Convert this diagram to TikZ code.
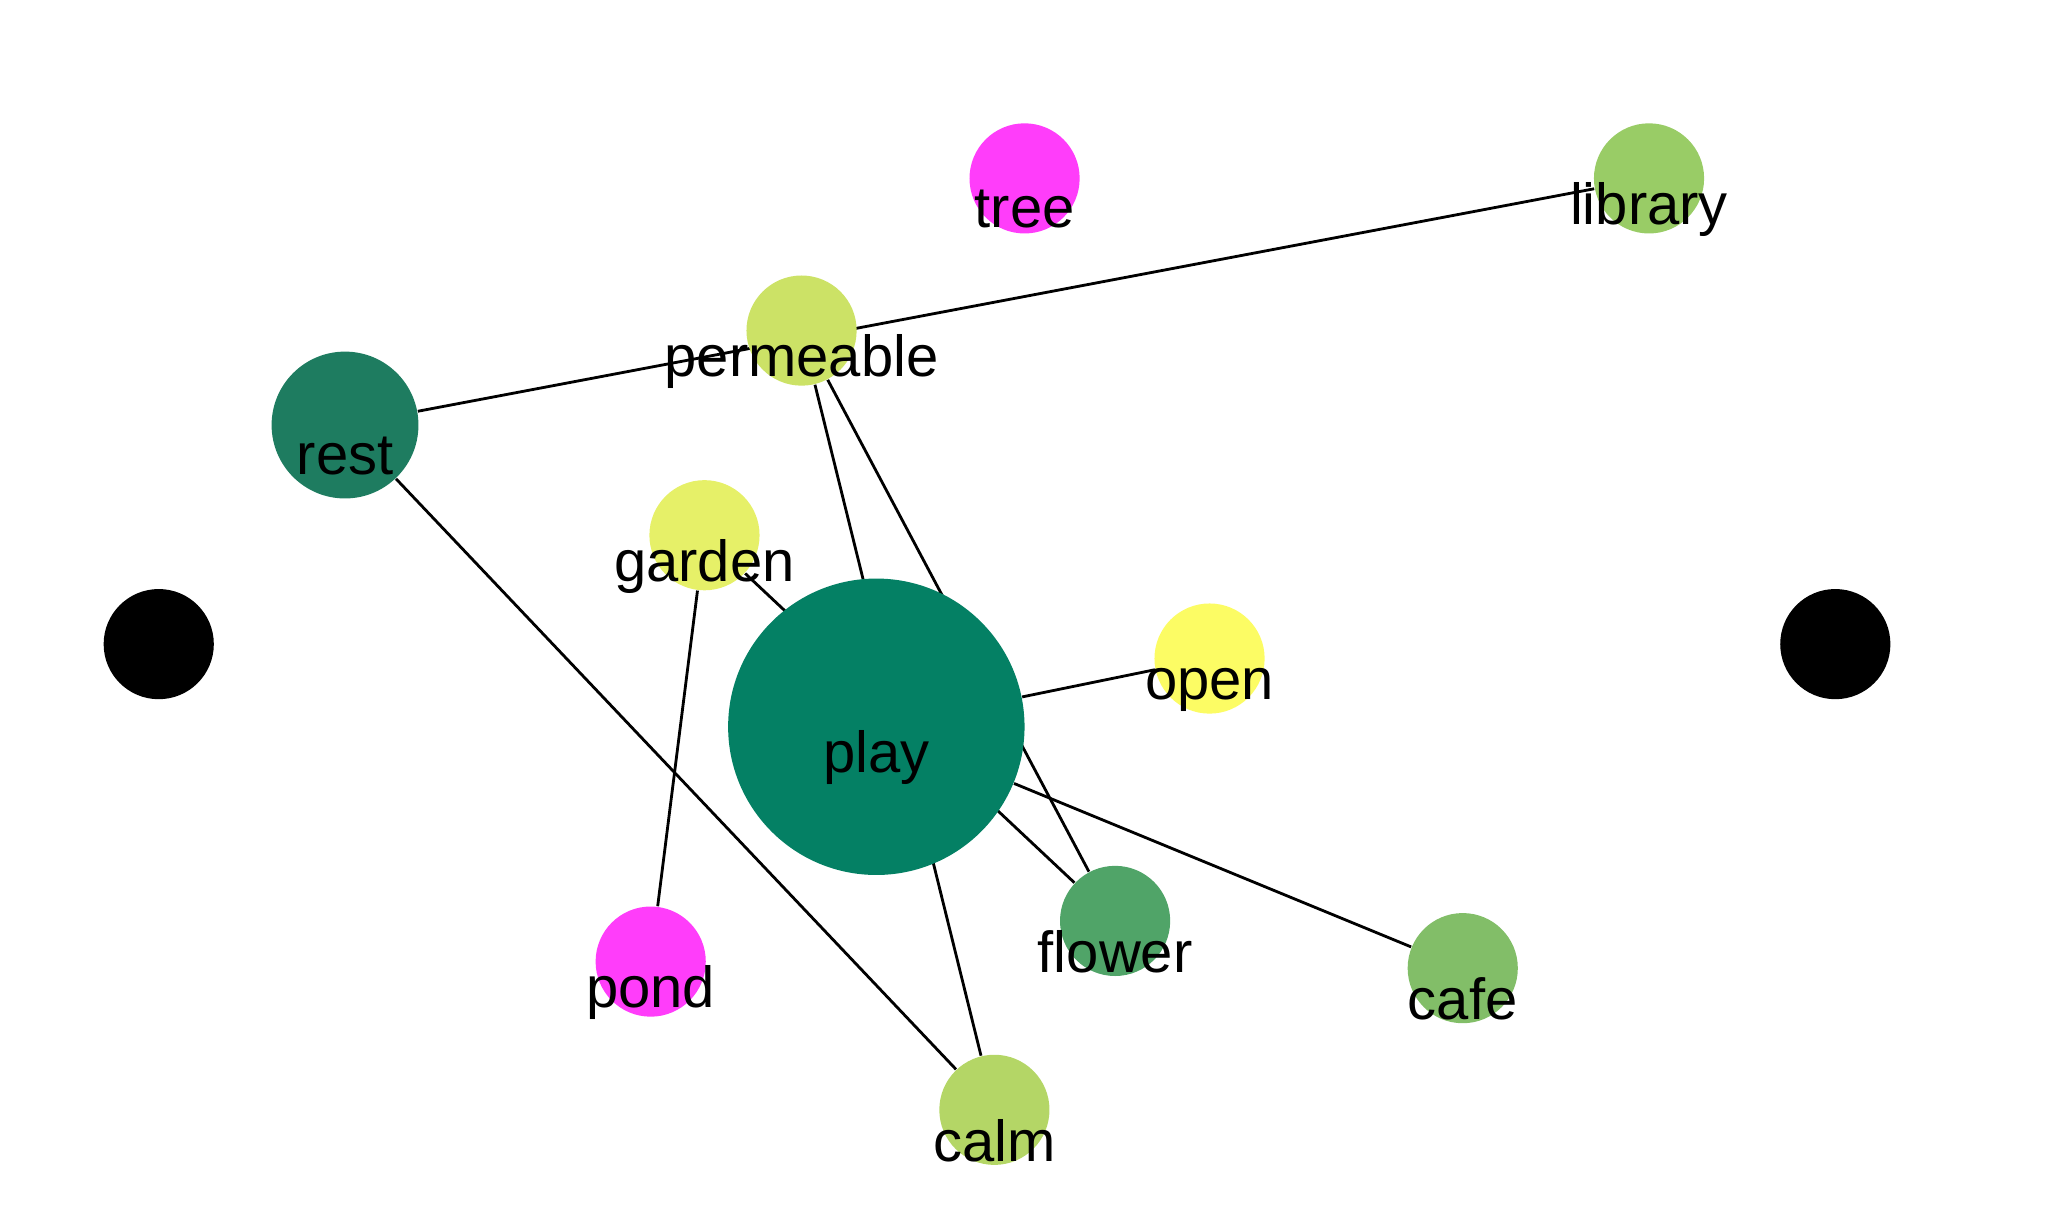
\documentclass[tikz,border=0pt]{standalone}
\usepackage{fontspec}
\setmainfont{Liberation Sans}
\usetikzlibrary{backgrounds}

\definecolor{magentaC}{RGB}{255,61,250}
\definecolor{libraryC}{RGB}{153,204,102}
\definecolor{permeableC}{RGB}{204,226,102}
\definecolor{restC}{RGB}{30,124,96}
\definecolor{gardenC}{RGB}{230,240,104}
\definecolor{playC}{RGB}{4,128,100}
\definecolor{openC}{RGB}{252,252,100}
\definecolor{flowerC}{RGB}{80,164,104}
\definecolor{cafeC}{RGB}{130,190,104}
\definecolor{calmC}{RGB}{180,214,102}

\begin{document}
\begin{tikzpicture}[
    x=0.013119cm, y=-0.013119cm,
    vtx/.style={circle,inner sep=0pt,minimum size=1.102cm},
    lbl/.style={font=\fontsize{16.5}{18}\selectfont,inner sep=0pt,yshift=-0.31cm},
    link/.style={draw,line width=0.8pt}
]
\useasboundingbox (0,0) rectangle (1568,920);

% word nodes
\node[vtx,fill=magentaC,label={[lbl]center:tree}] (tree) at (781,136) {};
\node[vtx,fill=libraryC,label={[lbl]center:library}] (library) at (1257,136) {};
\node[vtx,fill=permeableC,label={[lbl]center:permeable}] (permeable) at (611,252) {};
\node[vtx,fill=restC,minimum size=1.469cm,label={[lbl]center:rest}] (rest) at (263,324) {};
\node[vtx,fill=gardenC,label={[lbl]center:garden}] (garden) at (537,408) {};
\node[vtx,fill=playC,minimum size=2.965cm,label={[lbl]center:play}] (play) at (668,554) {};
\node[vtx,fill=openC,label={[lbl]center:open}] (open) at (922,502) {};
\node[vtx,fill=flowerC,label={[lbl]center:flower}] (flower) at (850,702) {};
\node[vtx,fill=cafeC,label={[lbl]center:cafe}] (cafe) at (1115,738) {};
\node[vtx,fill=magentaC,label={[lbl]center:pond}] (pond) at (496,733) {};
\node[vtx,fill=calmC,label={[lbl]center:calm}] (calm) at (758,846) {};

% black dots at the sides
\node[vtx,fill=black] (dotL) at (121,491) {};
\node[vtx,fill=black] (dotR) at (1399,491) {};

% links behind the nodes
\begin{scope}[on background layer]
    \draw[link] (rest) -- (library);
    \draw[link] (rest) -- (calm);
    \draw[link] (permeable) -- (calm);
    \draw[link] (permeable) -- (flower);
    \draw[link] (garden) -- (flower);
    \draw[link] (garden) -- (pond);
    \draw[link] (play) -- (open);
    \draw[link] (play) -- (cafe);
\end{scope}

\end{tikzpicture}
\end{document}
